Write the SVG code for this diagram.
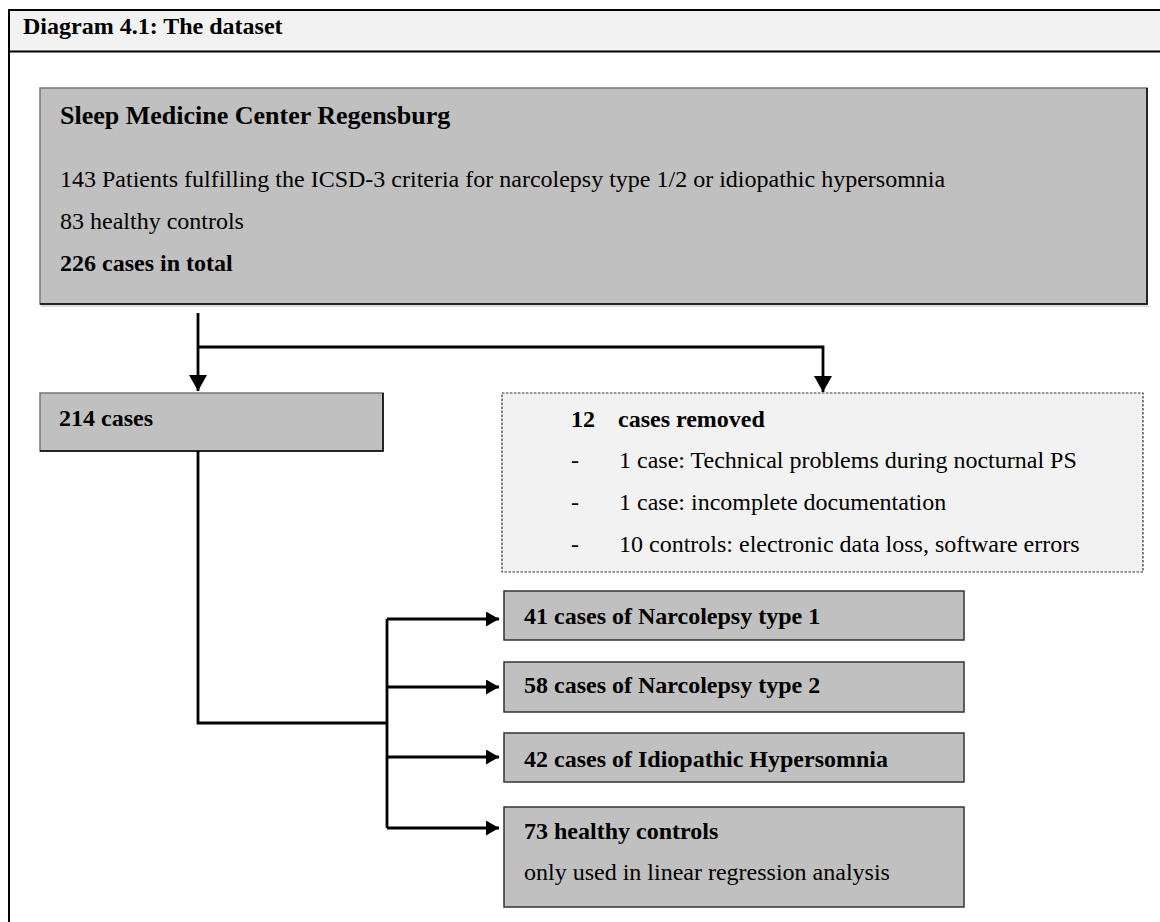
<svg xmlns="http://www.w3.org/2000/svg" width="1160" height="922" viewBox="0 0 1160 922">
  <style>
    text { font-family: "Liberation Serif", "Times New Roman", serif; font-size: 24px; fill: #000; }
    .b { font-weight: bold; }
    .big { font-size: 26px; }
    .box { fill: #c0c0c0; stroke: #777; stroke-width: 1.5; }
    .box2 { fill: #c0c0c0; stroke: #333; stroke-width: 1.5; }
    .shadow { fill: none; stroke: #000; stroke-width: 1.5; }
    .dash { fill: #f2f2f2; stroke: #333; stroke-width: 1.2; stroke-dasharray: 2.5 1.5; }
    .con { fill: none; stroke: #000; stroke-width: 2.8; }
  </style>
  <defs>
    <marker id="ah" markerUnits="userSpaceOnUse" markerWidth="14" markerHeight="15" refX="13" refY="7.5" orient="auto">
      <path d="M0,0 L13,7.5 L0,15 Z" fill="#000"/>
    </marker>
    <marker id="av" markerUnits="userSpaceOnUse" markerWidth="17" markerHeight="18" refX="16" refY="9" orient="auto">
      <path d="M0,0 L16,9 L0,18 Z" fill="#000"/>
    </marker>
  </defs>
  <rect width="1160" height="922" fill="#fff"/>

  <g id="frame">
    <rect x="9" y="10" width="1160" height="41.5" fill="#f2f2f2"/>
    <line x1="9" y1="10" x2="1160" y2="10" stroke="#000" stroke-width="2"/>
    <line x1="9" y1="51.5" x2="1160" y2="51.5" stroke="#000" stroke-width="2"/>
    <line x1="9" y1="9" x2="9" y2="922" stroke="#000" stroke-width="2"/>
    <text class="b" x="23" y="33.5">Diagram 4.1: The dataset</text>
  </g>

  <g id="center">
    <rect class="box" x="40" y="88" width="1107" height="216"/>
    <polyline class="shadow" points="1147,88 1147,304 40,304"/>
    <line x1="41" y1="306" x2="1149" y2="306" stroke="#d0d0d0" stroke-width="1.5"/>
    <text class="b big" x="60" y="124">Sleep Medicine Center Regensburg</text>
    <text x="60" y="187">143 Patients fulfilling the ICSD-3 criteria for narcolepsy type 1/2 or idiopathic hypersomnia</text>
    <text x="60" y="229">83 healthy controls</text>
    <text class="b" x="60" y="271">226 cases in total</text>
  </g>

  <g id="cases214">
    <rect class="box" x="40" y="393" width="343" height="58"/>
    <polyline class="shadow" points="383,393 383,451 40,451"/>
    <text class="b" x="59" y="426">214 cases</text>
  </g>

  <g id="removed">
    <rect class="dash" x="502" y="393" width="641" height="179"/>
    <text class="b" x="571" y="427">12</text>
    <text class="b" x="618" y="427">cases removed</text>
    <text x="571" y="468">-</text>
    <text x="619" y="468">1 case: Technical problems during nocturnal PS</text>
    <text x="571" y="510">-</text>
    <text x="619" y="510">1 case: incomplete documentation</text>
    <text x="571" y="552">-</text>
    <text x="619" y="552">10 controls: electronic data loss, software errors</text>
  </g>

  <g id="nt1">
    <rect class="box2" x="504" y="591" width="460" height="49"/>
    <text class="b" x="524" y="624">41 cases of Narcolepsy type 1</text>
  </g>
  <g id="nt2">
    <rect class="box2" x="504" y="662" width="460" height="50"/>
    <text class="b" x="524" y="693">58 cases of Narcolepsy type 2</text>
  </g>
  <g id="ih">
    <rect class="box2" x="504" y="733" width="460" height="49"/>
    <text class="b" x="524" y="767">42 cases of Idiopathic Hypersomnia</text>
  </g>
  <g id="controls">
    <rect class="box2" x="504" y="807" width="460" height="100"/>
    <text class="b" x="524" y="839">73 healthy controls</text>
    <text x="524" y="880">only used in linear regression analysis</text>
  </g>

  <g id="connectors">
    <line class="con" x1="198" y1="313" x2="198" y2="391" marker-end="url(#av)"/>
    <polyline class="con" points="198,347 823,347 823,392" marker-end="url(#av)"/>
    <polyline class="con" points="198,451 198,723 387,723"/>
    <line class="con" x1="387" y1="619" x2="387" y2="828"/>
    <line class="con" x1="387" y1="619" x2="499" y2="619" marker-end="url(#ah)"/>
    <line class="con" x1="387" y1="687" x2="499" y2="687" marker-end="url(#ah)"/>
    <line class="con" x1="387" y1="757" x2="499" y2="757" marker-end="url(#ah)"/>
    <line class="con" x1="387" y1="828" x2="499" y2="828" marker-end="url(#ah)"/>
  </g>
</svg>
